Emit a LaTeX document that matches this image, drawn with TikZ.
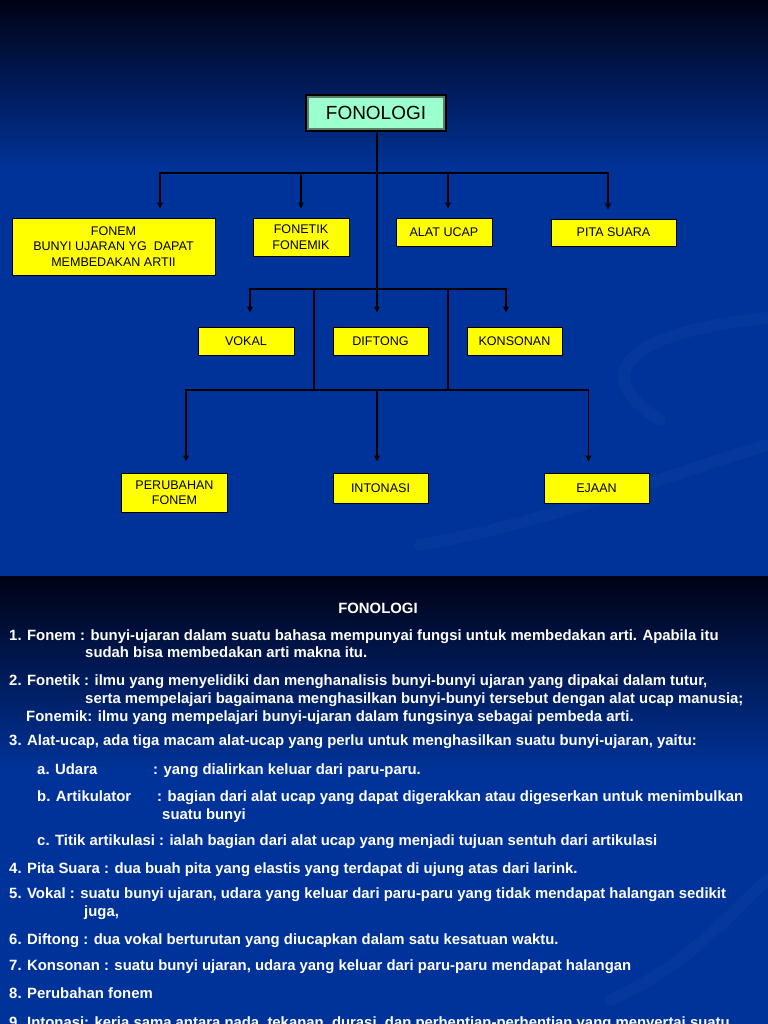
\documentclass[tikz,border=0pt]{standalone}
\usepackage{fontspec}
\setmainfont{Liberation Sans}
\usetikzlibrary{arrows.meta,calc,positioning}
\definecolor{slideblue}{RGB}{0,51,153}
\definecolor{slidetop}{RGB}{0,2,22}
\definecolor{boxyellow}{RGB}{255,255,0}
\definecolor{titlemint}{RGB}{156,255,206}
\definecolor{titleedge}{RGB}{92,124,108}
\tikzset{
  box/.style={rectangle,draw=black,line width=0.8pt,fill=boxyellow,text=black,align=center,
              inner sep=0pt,font=\fontsize{10.7pt}{13.2pt}\selectfont},
  titlebox/.style={rectangle,draw=titleedge,line width=1pt,fill=titlemint,
                   preaction={draw=black,line width=5.5pt},inner sep=0pt,
                   minimum width=4.08cm,minimum height=0.96cm,font=\fontsize{16.2pt}{19pt}\selectfont},
  ln/.style={draw=black,line width=0.9pt},
  arr/.style={ln,-{Triangle[length=5pt,width=4.6pt]},shorten >=0.27cm},
  txt/.style={anchor=base west,inner sep=0pt,text=white,font=\fontsize{12.7pt}{15pt}\selectfont\bfseries},
  swoosh/.style={line width=0.35cm,draw=white,opacity=0.025,line cap=round},
}
\begin{document}
\begin{tikzpicture}[x=0.03cm,y=-0.03cm]
  \useasboundingbox (0,0) rectangle (768,1024);
  \clip (0,0) rectangle (768,1024);
  % two slides, dark at the top of each
  \fill[top color=slidetop,bottom color=slideblue] (0,0) rectangle (768,170);
  \fill[slideblue] (0,170) rectangle (768,576);
  \fill[top color=slidetop,bottom color=slideblue] (0,576) rectangle (768,770);
  \fill[slideblue] (0,770) rectangle (768,1024);
  \draw[swoosh] (420,545) .. controls (560,520) and (680,470) .. (768,445);
  \draw[swoosh] (768,318) .. controls (640,330) and (580,370) .. (660,420);
  \draw[swoosh] (610,1000) .. controls (700,960) and (740,900) .. (768,880);

  % tree
  \node[titlebox] (fonologi) at (376,113) {FONOLOGI};
  \node[box,minimum width=6.09cm,minimum height=1.71cm] (fonem) at (113.5,246.5)
       {FONEM\\BUNYI UJARAN YG\ \ DAPAT\\MEMBEDAKAN ARTII};
  \node[box,minimum width=2.88cm,minimum height=1.14cm] (fonetik) at (301,237) {FONETIK\\FONEMIK};
  \node[box,minimum width=2.88cm,minimum height=0.84cm] (alatucap) at (444,232) {ALAT UCAP};
  \node[box,minimum width=3.75cm,minimum height=0.81cm] (pitasuara) at (613.5,232.5) {PITA SUARA};
  \node[box,minimum width=2.88cm,minimum height=0.84cm] (vokal) at (246,341) {VOKAL};
  \node[box,minimum width=2.85cm,minimum height=0.84cm] (diftong) at (380.5,341) {DIFTONG};
  \node[box,minimum width=2.85cm,minimum height=0.84cm] (konsonan) at (514.5,341) {KONSONAN};
  \node[box,minimum width=3.18cm,minimum height=1.17cm] (perubahan) at (174.5,492.5) {PERUBAHAN\\FONEM};
  \node[box,minimum width=2.85cm,minimum height=0.9cm] (intonasi) at (380.5,488) {INTONASI};
  \node[box,minimum width=3.15cm,minimum height=0.9cm] (ejaan) at (596.5,488) {EJAAN};

  \coordinate (j1) at (377,173);
  \coordinate (j2) at (377,289);
  \coordinate (m1) at (314,289);
  \coordinate (m2) at (448,289);
  \coordinate (l0) at (377,390);
  \coordinate (l1) at (314,390);
  \coordinate (l2) at (448,390);

  \draw[ln] (fonologi.south -| j1) -- (j2);
  \draw[arr] (j1) -| ($(fonem.north)+(46.5,0)$);
  \draw[arr] (j1) -| (fonetik.north);
  \draw[arr] (j1) -| ($(alatucap.north)+(4,0)$);
  \draw[arr] (j1) -| ($(pitasuara.north)+(-5.5,0)$);
  \draw[arr,shorten >=0.42cm] (j2) -| ($(vokal.north)+(4,0)$);
  \draw[arr,shorten >=0.42cm] (j2) -- ($(diftong.north)+(-3.5,0)$);
  \draw[arr,shorten >=0.42cm] (j2) -| ($(konsonan.north)+(-8.5,0)$);
  \draw[ln] (m1) -- (l1);
  \draw[ln] (m2) -- (l2);
  \draw[ln] (l1) -- (l2);
  \draw[arr,shorten >=0.33cm] (l1) -| ($(perubahan.north)+(11.5,0)$);
  \draw[arr,shorten >=0.33cm] (l0) -- ($(intonasi.north)+(-3.5,0)$);
  \draw[arr,shorten >=0.33cm] (l2) -| ($(ejaan.north)+(-8,0)$);

  % second slide text
  \node[txt,anchor=base] (head) at (378,613) {FONOLOGI};
  \node[txt] (t1)  at (9,640)   {1. Fonem : bunyi-ujaran dalam suatu bahasa mempunyai fungsi untuk membedakan arti. Apabila itu};
  \node[txt] (t1b) at (85,657)  {sudah bisa membedakan arti makna itu.};
  \node[txt] (t2)  at (9,685)   {2. Fonetik : ilmu yang menyelidiki dan menghanalisis bunyi-bunyi ujaran yang dipakai dalam tutur,};
  \node[txt] (t2b) at (85,703)  {serta mempelajari bagaimana menghasilkan bunyi-bunyi tersebut dengan alat ucap manusia;};
  \node[txt] (t2c) at (26,721)  {Fonemik: ilmu yang mempelajari bunyi-ujaran dalam fungsinya sebagai pembeda arti.};
  \node[txt] (t3)  at (9,745)   {3. Alat-ucap, ada tiga macam alat-ucap yang perlu untuk menghasilkan suatu bunyi-ujaran, yaitu:};
  \node[txt] (t3a) at (37,774)  {a. Udara};
  \node[txt] (d3a) at (153,774) {: yang dialirkan keluar dari paru-paru.};
  \node[txt] (t3b) at (37,801)  {b. Artikulator};
  \node[txt] (d3b) at (157,801) {: bagian dari alat ucap yang dapat digerakkan atau digeserkan untuk menimbulkan};
  \node[txt] (e3b) at (162,819) {suatu bunyi};
  \node[txt] (t3c) at (37,845)  {c. Titik artikulasi : ialah bagian dari alat ucap yang menjadi tujuan sentuh dari artikulasi};
  \node[txt] (t4)  at (9,873)   {4. Pita Suara : dua buah pita yang elastis yang terdapat di ujung atas dari larink.};
  \node[txt] (t5)  at (9,898)   {5. Vokal : suatu bunyi ujaran, udara yang keluar dari paru-paru yang tidak mendapat halangan sedikit};
  \node[txt] (t5b) at (84,916)  {juga,};
  \node[txt] (t6)  at (9,944)   {6. Diftong : dua vokal berturutan yang diucapkan dalam satu kesatuan waktu.};
  \node[txt] (t7)  at (9,970)   {7. Konsonan : suatu bunyi ujaran, udara yang keluar dari paru-paru mendapat halangan};
  \node[txt] (t8)  at (9,998)   {8. Perubahan fonem};
  \node[txt] (t9)  at (9,1027)  {9. Intonasi: kerja sama antara nada, tekanan, durasi, dan perhentian-perhentian yang menyertai suatu};
\end{tikzpicture}
\end{document}
